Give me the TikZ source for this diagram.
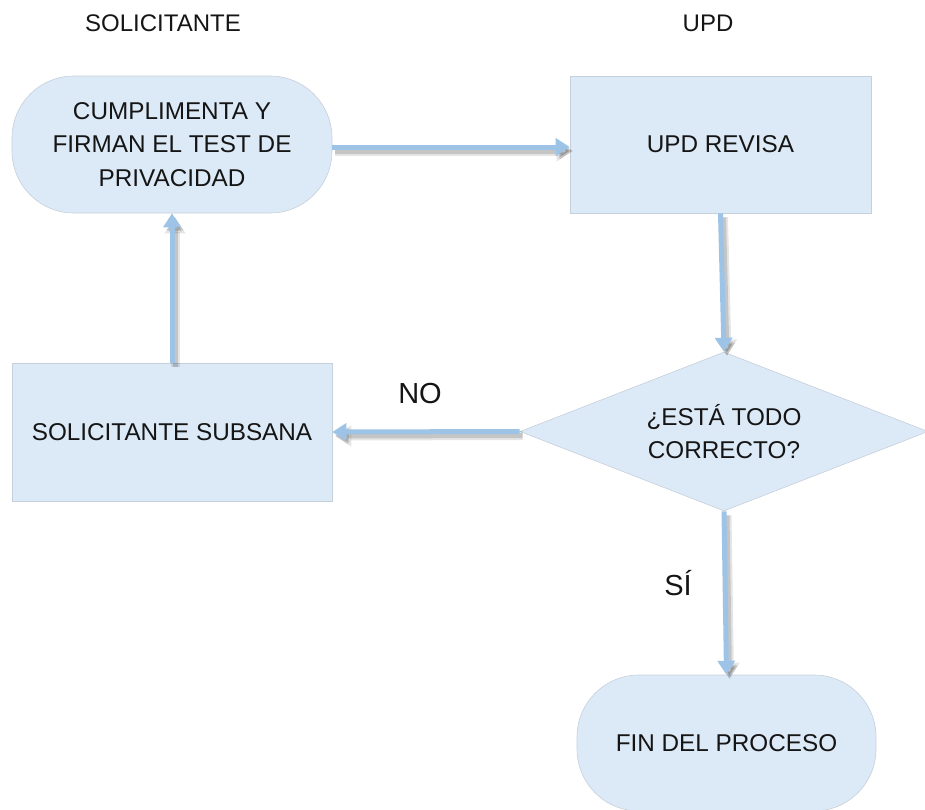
\documentclass[tikz,border=0pt]{standalone}
\usepackage{fontspec}
\setmainfont{Liberation Sans}
\usetikzlibrary{arrows.meta,shapes.geometric}
\definecolor{boxfill}{HTML}{DCE9F6}
\definecolor{boxline}{HTML}{C6D0DA}
\definecolor{arr}{HTML}{9DC3E6}
\definecolor{txt}{HTML}{151515}
\tikzset{
  box/.style={draw=boxline, line width=0.6pt, fill=boxfill, text=txt,
    font=\fontsize{24.3}{33.5}\selectfont, align=center, inner sep=0pt},
  arrowline/.style={draw=arr, line width=5pt, -{Triangle[width=17pt,length=14pt]}},
  arrowshadow/.style={draw=black, opacity=0.10, line width=9pt,
    -{Triangle[width=20pt,length=16pt]}, transform canvas={shift={(3pt,-4pt)}}},
  arrowshadowin/.style={draw=black, opacity=0.14, line width=5pt,
    -{Triangle[width=16pt,length=13pt]}, transform canvas={shift={(3pt,-4pt)}}},
  lbl/.style={text=txt, anchor=base, inner sep=0pt},
}
\begin{document}
\begin{tikzpicture}[x=1pt,y=-1pt]
\useasboundingbox (0,0) rectangle (925,809);
\clip (0,0) rectangle (925,809);

\node[box, rounded corners=62pt, minimum width=320pt, minimum height=137pt] (n1) at (172,144.5)
  {CUMPLIMENTA Y\\FIRMAN EL TEST DE\\PRIVACIDAD};
\node[box, minimum width=301pt, minimum height=137pt] (upd) at (720.5,144.5) {UPD REVISA};
\node[box, diamond, aspect=2.56, minimum width=408pt, minimum height=159pt] (dia) at (724,431.5)
  {¿ESTÁ TODO\\CORRECTO?};
\node[box, minimum width=320pt, minimum height=138pt] (sub) at (172,432) {SOLICITANTE SUBSANA};
\node[box, rounded corners=62pt, minimum width=299pt, minimum height=136pt] (fin) at (726.5,743)
  {FIN DEL PROCESO};

% shadows
\draw[arrowshadow] ([yshift=-2.5pt]n1.east) -- ([yshift=-2.5pt]upd.west);
\draw[arrowshadow] (upd.south) -- (dia.north);
\draw[arrowshadow] (dia.west) -- (sub.east);
\draw[arrowshadow] (sub.north) -- (n1.south);
\draw[arrowshadow] (dia.south) -- (fin.north);
\draw[arrowshadowin] ([yshift=-2.5pt]n1.east) -- ([yshift=-2.5pt]upd.west);
\draw[arrowshadowin] (upd.south) -- (dia.north);
\draw[arrowshadowin] (dia.west) -- (sub.east);
\draw[arrowshadowin] (sub.north) -- (n1.south);
\draw[arrowshadowin] (dia.south) -- (fin.north);
% arrows
\draw[arrowline] ([yshift=-2.5pt]n1.east) -- ([yshift=-2.5pt]upd.west);
\draw[arrowline] (upd.south) -- (dia.north);
\draw[arrowline] (dia.west) -- (sub.east);
\draw[arrowline] (sub.north) -- (n1.south);
\draw[arrowline] (dia.south) -- (fin.north);

\node[lbl, font=\fontsize{24}{28}\selectfont] (h1) at (163,31) {SOLICITANTE};
\node[lbl, font=\fontsize{24}{28}\selectfont] (h2) at (708,31) {UPD};
\node[lbl, font=\fontsize{29}{34}\selectfont] (no) at (420,403) {NO};
\node[lbl, font=\fontsize{29}{34}\selectfont] (si) at (678,595) {SÍ};
\end{tikzpicture}
\end{document}
